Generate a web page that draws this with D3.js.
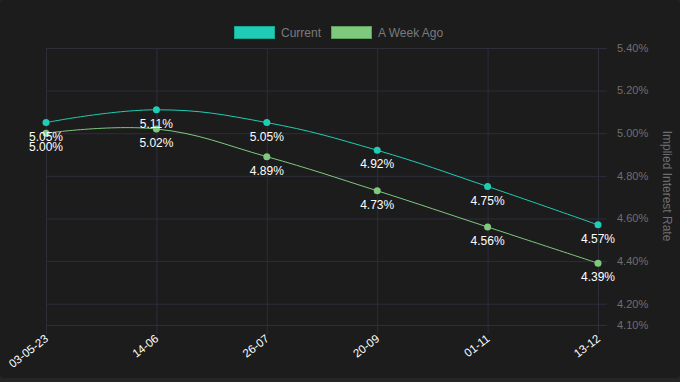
<!DOCTYPE html>
<html>
<head>
<meta charset="utf-8">
<script src="https://cdn.jsdelivr.net/npm/d3@7"></script>
<style>
  html, body { margin: 0; padding: 0; background: #252525; }
  svg { display: block; font-family: "Helvetica Neue", Arial, "Liberation Sans", sans-serif; }
</style>
</head>
<body>
<svg id="chart" width="680" height="382"></svg>
<script>
// dates on the x axis
var dates = ['03-05-23', '14-06', '26-07', '20-09', '01-11', '13-12'];
var current = [5.05, 5.11, 5.05, 4.92, 4.75, 4.57];
var weekAgo = [5.00, 5.02, 4.89, 4.73, 4.56, 4.39];
var yTicks = [4.10, 4.20, 4.40, 4.60, 4.80, 5.00, 5.20, 5.40];
var seriesNames = ['Current', 'A Week Ago'];

var colors = ['#1ecdb4', '#7fc97f'];
var borders = ['#17a892', '#5e9f5e'];

var svg = d3.select('#chart');

svg.append('rect')
    .attr('x', 0).attr('y', 0)
    .attr('width', 680).attr('height', 378)
    .attr('rx', 4)
    .attr('fill', '#1c1c1c');

var x = d3.scalePoint().domain(dates).range([46, 598]);
var y = d3.scaleLinear().domain([4.10, 5.40]).range([325, 48]);

// grid
var grid = svg.append('g');
grid.selectAll('line.h')
    .data(yTicks).enter()
  .append('line')
    .attr('x1', 46).attr('x2', 607)
    .attr('y1', function (d) { return y(d) + 0.5; })
    .attr('y2', function (d) { return y(d) + 0.5; })
    .attr('stroke', '#2e2d3c').attr('stroke-width', 1);
grid.selectAll('line.v')
    .data(dates).enter()
  .append('line')
    .attr('x1', function (d) { return x(d) + 0.5; })
    .attr('x2', function (d) { return x(d) + 0.5; })
    .attr('y1', 48).attr('y2', 334)
    .attr('stroke', '#2e2d3c').attr('stroke-width', 1);

// right axis labels
svg.append('g').selectAll('text')
    .data(yTicks).enter()
  .append('text')
    .attr('x', 617)
    .attr('y', function (d) { return y(d); })
    .attr('dy', '0.35em')
    .attr('fill', '#6f6f6f')
    .attr('font-size', 11)
    .text(function (d) { return d.toFixed(2) + '%'; });

svg.append('text')
    .attr('transform', 'translate(663,186) rotate(90)')
    .attr('text-anchor', 'middle')
    .attr('fill', '#6f6f6f')
    .attr('font-size', 12)
    .text('Implied Interest Rate');

// x axis labels
svg.append('g').selectAll('text')
    .data(dates).enter()
  .append('text')
    .attr('transform', function (d) { return 'translate(' + (x(d) + 3) + ',340) rotate(-38)'; })
    .attr('text-anchor', 'end')
    .attr('fill', '#ffffff')
    .attr('font-size', 11.5)
    .text(function (d) { return d; });

// lines
var line = d3.line()
    .x(function (d, i) { return x(dates[i]); })
    .y(function (d) { return y(d); })
    .curve(d3.curveCardinal.tension(-0.2));

[weekAgo, current].forEach(function (vals, k) {
    var c = k === 0 ? colors[1] : colors[0];
    svg.append('path')
        .datum(vals)
        .attr('d', line)
        .attr('fill', 'none')
        .attr('stroke', c)
        .attr('stroke-width', 1);
});

[current, weekAgo].forEach(function (vals, k) {
    var g = svg.append('g');
    g.selectAll('circle')
        .data(vals).enter()
      .append('circle')
        .attr('cx', function (d, i) { return x(dates[i]); })
        .attr('cy', function (d) { return y(d); })
        .attr('r', 3.5)
        .attr('fill', colors[k]);
});

[current, weekAgo].forEach(function (vals) {
    svg.append('g').selectAll('text')
        .data(vals).enter()
      .append('text')
        .attr('x', function (d, i) { return x(dates[i]); })
        .attr('y', function (d) { return y(d) + 14; })
        .attr('dy', '0.35em')
        .attr('text-anchor', 'middle')
        .attr('fill', '#ffffff')
        .attr('font-size', 12)
        .text(function (d) { return d.toFixed(2) + '%'; });
});

// legend
var legend = svg.append('g');
var lx = [234, 331];
seriesNames.forEach(function (name, k) {
    legend.append('rect')
        .attr('x', lx[k] + 0.5).attr('y', 26.5)
        .attr('width', 40).attr('height', 12)
        .attr('fill', colors[k])
        .attr('stroke', borders[k]);
    legend.append('text')
        .attr('x', lx[k] + 47).attr('y', 33)
        .attr('dy', '0.35em')
        .attr('fill', '#7a7a7a')
        .attr('font-size', 12)
        .text(name);
});
</script>
</body>
</html>
